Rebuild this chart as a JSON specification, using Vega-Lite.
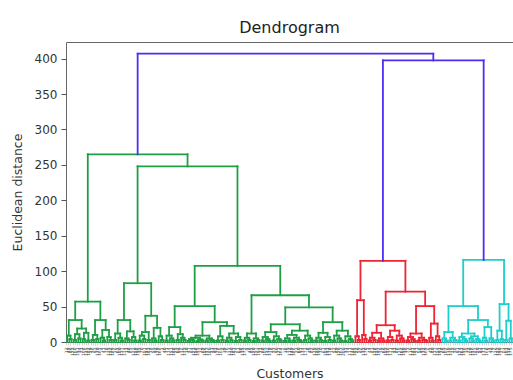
{
  "$schema": "https://vega.github.io/schema/vega-lite/v6.json",
  "width": 447,
  "height": 300,
  "autosize": {"type": "none"},
  "padding": {"left": 66, "top": 42, "right": 0, "bottom": 38},
  "background": "white",
  "title": {"text": "Dendrogram", "fontSize": 16, "fontWeight": "normal", "font": "DejaVu Sans", "color": "#222", "offset": 6},
  "config": {
    "view": {"stroke": "#666", "strokeWidth": 1},
    "axisX": {
      "tickCount": 200,
      "labelExpr": "datum.value >= 199.5 ? '' : '' + ((floor(datum.value) * 37 + 11) % 200 + 1)",
      "labelAngle": -90, "labelFontSize": 4.5, "labelColor": "#555", "labelFont": "DejaVu Sans",
      "labelOverlap": false, "labelPadding": 2, "labelBound": false, "labelFlush": false,
      "tickSize": 3, "tickColor": "#aaa", "tickWidth": 0.5,
      "domain": false, "grid": false,
      "titleFont": "DejaVu Sans", "titleFontSize": 12.5, "titleFontWeight": "normal", "titleColor": "#333", "titlePadding": 12
    },
    "axisY": {
      "labelFont": "DejaVu Sans", "labelFontSize": 12, "labelColor": "#333", "labelPadding": 4,
      "tickSize": 5, "tickColor": "#555",
      "domain": false, "grid": false,
      "titleFont": "DejaVu Sans", "titleFontSize": 12.5, "titleFontWeight": "normal", "titleColor": "#333", "titlePadding": 10
    }
  },
  "data": {"values": [
    {"a":1.5,"ya":0,"b":2.5,"yb":0,"h":4,"c":"g"},
    {"a":0.5,"ya":0,"b":2,"yb":4,"h":9,"c":"g"},
    {"a":3.5,"ya":0,"b":4.5,"yb":0,"h":3,"c":"g"},
    {"a":5.5,"ya":0,"b":6.5,"yb":0,"h":5,"c":"g"},
    {"a":4,"ya":3,"b":6,"yb":5,"h":11,"c":"g"},
    {"a":7.5,"ya":0,"b":8.5,"yb":0,"h":4,"c":"g"},
    {"a":9.5,"ya":0,"b":10.5,"yb":0,"h":2,"c":"g"},
    {"a":8,"ya":4,"b":10,"yb":2,"h":13,"c":"g"},
    {"a":5,"ya":11,"b":9,"yb":13,"h":19,"c":"g"},
    {"a":1.25,"ya":9,"b":7,"yb":19,"h":31,"c":"g"},
    {"a":11.5,"ya":0,"b":12.5,"yb":0,"h":3,"c":"g"},
    {"a":13.5,"ya":0,"b":14.5,"yb":0,"h":4,"c":"g"},
    {"a":12,"ya":3,"b":14,"yb":4,"h":10,"c":"g"},
    {"a":16.5,"ya":0,"b":17.5,"yb":0,"h":2,"c":"g"},
    {"a":15.5,"ya":0,"b":17,"yb":2,"h":6,"c":"g"},
    {"a":19.5,"ya":0,"b":20.5,"yb":0,"h":3,"c":"g"},
    {"a":18.5,"ya":0,"b":20,"yb":3,"h":7,"c":"g"},
    {"a":16.25,"ya":6,"b":19.25,"yb":7,"h":17,"c":"g"},
    {"a":13,"ya":10,"b":17.75,"yb":17,"h":31,"c":"g"},
    {"a":4.125,"ya":31,"b":15.375,"yb":31,"h":57,"c":"g"},
    {"a":21.5,"ya":0,"b":22.5,"yb":0,"h":3,"c":"g"},
    {"a":24.5,"ya":0,"b":25.5,"yb":0,"h":2,"c":"g"},
    {"a":23.5,"ya":0,"b":25,"yb":2,"h":6,"c":"g"},
    {"a":22,"ya":3,"b":24.25,"yb":6,"h":12,"c":"g"},
    {"a":27.5,"ya":0,"b":28.5,"yb":0,"h":3,"c":"g"},
    {"a":26.5,"ya":0,"b":28,"yb":3,"h":5,"c":"g"},
    {"a":30.5,"ya":0,"b":31.5,"yb":0,"h":2,"c":"g"},
    {"a":29.5,"ya":0,"b":31,"yb":2,"h":7,"c":"g"},
    {"a":27.25,"ya":5,"b":30.25,"yb":7,"h":15,"c":"g"},
    {"a":23.125,"ya":12,"b":28.75,"yb":15,"h":31,"c":"g"},
    {"a":32.5,"ya":0,"b":33.5,"yb":0,"h":2,"c":"g"},
    {"a":34.5,"ya":0,"b":35.5,"yb":0,"h":4,"c":"g"},
    {"a":33,"ya":2,"b":35,"yb":4,"h":9,"c":"g"},
    {"a":36.5,"ya":0,"b":37.5,"yb":0,"h":3,"c":"g"},
    {"a":34,"ya":9,"b":37,"yb":3,"h":14,"c":"g"},
    {"a":39.5,"ya":0,"b":40.5,"yb":0,"h":2,"c":"g"},
    {"a":38.5,"ya":0,"b":40,"yb":2,"h":5,"c":"g"},
    {"a":42.5,"ya":0,"b":43.5,"yb":0,"h":3,"c":"g"},
    {"a":41.5,"ya":0,"b":43,"yb":3,"h":8,"c":"g"},
    {"a":39.25,"ya":5,"b":42.25,"yb":8,"h":20,"c":"g"},
    {"a":35.5,"ya":14,"b":40.75,"yb":20,"h":37,"c":"g"},
    {"a":25.94,"ya":31,"b":38.125,"yb":37,"h":83,"c":"g"},
    {"a":44.5,"ya":0,"b":45.5,"yb":0,"h":2,"c":"g"},
    {"a":47.5,"ya":0,"b":48.5,"yb":0,"h":2,"c":"g"},
    {"a":46.5,"ya":0,"b":48,"yb":2,"h":5,"c":"g"},
    {"a":45,"ya":2,"b":47.25,"yb":5,"h":9,"c":"g"},
    {"a":49.5,"ya":0,"b":50.5,"yb":0,"h":3,"c":"g"},
    {"a":52.5,"ya":0,"b":53.5,"yb":0,"h":3,"c":"g"},
    {"a":51.5,"ya":0,"b":53,"yb":3,"h":6,"c":"g"},
    {"a":50,"ya":3,"b":52.25,"yb":6,"h":11,"c":"g"},
    {"a":46.125,"ya":9,"b":51.125,"yb":11,"h":21,"c":"g"},
    {"a":54.5,"ya":0,"b":55.5,"yb":0,"h":1.5,"c":"g"},
    {"a":56.5,"ya":0,"b":57.5,"yb":0,"h":2,"c":"g"},
    {"a":55,"ya":1.5,"b":57,"yb":2,"h":4,"c":"g"},
    {"a":58.5,"ya":0,"b":59.5,"yb":0,"h":1,"c":"g"},
    {"a":60.5,"ya":0,"b":61.5,"yb":0,"h":2,"c":"g"},
    {"a":59,"ya":1,"b":61,"yb":2,"h":3.5,"c":"g"},
    {"a":56,"ya":4,"b":60,"yb":3.5,"h":6,"c":"g"},
    {"a":62.5,"ya":0,"b":63.5,"yb":0,"h":2,"c":"g"},
    {"a":65.5,"ya":0,"b":66.5,"yb":0,"h":1.5,"c":"g"},
    {"a":64.5,"ya":0,"b":66,"yb":1.5,"h":3,"c":"g"},
    {"a":63,"ya":2,"b":65.25,"yb":3,"h":5,"c":"g"},
    {"a":58,"ya":6,"b":64.125,"yb":5,"h":9,"c":"g"},
    {"a":67.5,"ya":0,"b":68.5,"yb":0,"h":2,"c":"g"},
    {"a":69.5,"ya":0,"b":70.5,"yb":0,"h":3,"c":"g"},
    {"a":68,"ya":2,"b":70,"yb":3,"h":8,"c":"g"},
    {"a":71.5,"ya":0,"b":72.5,"yb":0,"h":2,"c":"g"},
    {"a":73.5,"ya":0,"b":74.5,"yb":0,"h":2.5,"c":"g"},
    {"a":72,"ya":2,"b":74,"yb":2.5,"h":6,"c":"g"},
    {"a":75.5,"ya":0,"b":76.5,"yb":0,"h":1.5,"c":"g"},
    {"a":77.5,"ya":0,"b":78.5,"yb":0,"h":3,"c":"g"},
    {"a":76,"ya":1.5,"b":78,"yb":3,"h":7,"c":"g"},
    {"a":73,"ya":6,"b":77,"yb":7,"h":12,"c":"g"},
    {"a":69,"ya":8,"b":75,"yb":12,"h":22.7,"c":"g"},
    {"a":61.06,"ya":9,"b":72,"yb":22.7,"h":28,"c":"g"},
    {"a":48.625,"ya":21,"b":66.53,"yb":28,"h":50.7,"c":"g"},
    {"a":79.5,"ya":0,"b":80.5,"yb":0,"h":2,"c":"g"},
    {"a":81.5,"ya":0,"b":82.5,"yb":0,"h":3,"c":"g"},
    {"a":80,"ya":2,"b":82,"yb":3,"h":6,"c":"g"},
    {"a":83.5,"ya":0,"b":84.5,"yb":0,"h":1.5,"c":"g"},
    {"a":85.5,"ya":0,"b":86.5,"yb":0,"h":2.5,"c":"g"},
    {"a":84,"ya":1.5,"b":86,"yb":2.5,"h":5,"c":"g"},
    {"a":81,"ya":6,"b":85,"yb":5,"h":12,"c":"g"},
    {"a":87.5,"ya":0,"b":88.5,"yb":0,"h":2,"c":"g"},
    {"a":90.5,"ya":0,"b":91.5,"yb":0,"h":1.5,"c":"g"},
    {"a":89.5,"ya":0,"b":91,"yb":1.5,"h":4,"c":"g"},
    {"a":88,"ya":2,"b":90.25,"yb":4,"h":7,"c":"g"},
    {"a":92.5,"ya":0,"b":93.5,"yb":0,"h":2,"c":"g"},
    {"a":95.5,"ya":0,"b":96.5,"yb":0,"h":2,"c":"g"},
    {"a":94.5,"ya":0,"b":96,"yb":2,"h":4,"c":"g"},
    {"a":93,"ya":2,"b":95.25,"yb":4,"h":8,"c":"g"},
    {"a":89.125,"ya":7,"b":94.125,"yb":8,"h":14,"c":"g"},
    {"a":97.5,"ya":0,"b":98.5,"yb":0,"h":1.5,"c":"g"},
    {"a":99.5,"ya":0,"b":100.5,"yb":0,"h":2,"c":"g"},
    {"a":98,"ya":1.5,"b":100,"yb":2,"h":5,"c":"g"},
    {"a":101.5,"ya":0,"b":102.5,"yb":0,"h":2,"c":"g"},
    {"a":104.5,"ya":0,"b":105.5,"yb":0,"h":1,"c":"g"},
    {"a":103.5,"ya":0,"b":105,"yb":1,"h":3,"c":"g"},
    {"a":102,"ya":2,"b":104.25,"yb":3,"h":6,"c":"g"},
    {"a":99,"ya":5,"b":103.125,"yb":6,"h":10,"c":"g"},
    {"a":106.5,"ya":0,"b":107.5,"yb":0,"h":3,"c":"g"},
    {"a":109.5,"ya":0,"b":110.5,"yb":0,"h":2,"c":"g"},
    {"a":108.5,"ya":0,"b":110,"yb":2,"h":5,"c":"g"},
    {"a":107,"ya":3,"b":109.25,"yb":5,"h":9,"c":"g"},
    {"a":101.06,"ya":10,"b":108.125,"yb":9,"h":16,"c":"g"},
    {"a":91.625,"ya":14,"b":104.59,"yb":16,"h":25,"c":"g"},
    {"a":111.5,"ya":0,"b":112.5,"yb":0,"h":2,"c":"g"},
    {"a":113.5,"ya":0,"b":114.5,"yb":0,"h":2.5,"c":"g"},
    {"a":112,"ya":2,"b":114,"yb":2.5,"h":6,"c":"g"},
    {"a":115.5,"ya":0,"b":116.5,"yb":0,"h":1.5,"c":"g"},
    {"a":117.5,"ya":0,"b":118.5,"yb":0,"h":3,"c":"g"},
    {"a":116,"ya":1.5,"b":118,"yb":3,"h":7,"c":"g"},
    {"a":113,"ya":6,"b":117,"yb":7,"h":13,"c":"g"},
    {"a":119.5,"ya":0,"b":120.5,"yb":0,"h":2,"c":"g"},
    {"a":122.5,"ya":0,"b":123.5,"yb":0,"h":2,"c":"g"},
    {"a":121.5,"ya":0,"b":123,"yb":2,"h":5,"c":"g"},
    {"a":120,"ya":2,"b":122.25,"yb":5,"h":9,"c":"g"},
    {"a":124.5,"ya":0,"b":125.5,"yb":0,"h":1.5,"c":"g"},
    {"a":127.5,"ya":0,"b":128.5,"yb":0,"h":2,"c":"g"},
    {"a":126.5,"ya":0,"b":128,"yb":2,"h":4,"c":"g"},
    {"a":125,"ya":1.5,"b":127.25,"yb":4,"h":8,"c":"g"},
    {"a":121.125,"ya":9,"b":126.125,"yb":8,"h":16,"c":"g"},
    {"a":115,"ya":13,"b":123.625,"yb":16,"h":28,"c":"g"},
    {"a":98.11,"ya":25,"b":119.31,"yb":28,"h":48.8,"c":"g"},
    {"a":83,"ya":12,"b":108.71,"yb":48.8,"h":66,"c":"g"},
    {"a":57.58,"ya":50.7,"b":95.86,"yb":66,"h":107.5,"c":"g"},
    {"a":32.03,"ya":83,"b":76.72,"yb":107.5,"h":248,"c":"g"},
    {"a":9.75,"ya":57,"b":54.375,"yb":248,"h":265,"c":"g"},
    {"a":130.5,"ya":0,"b":131.5,"yb":0,"h":3,"c":"r"},
    {"a":129.5,"ya":0,"b":131,"yb":3,"h":8,"c":"r"},
    {"a":133.5,"ya":0,"b":134.5,"yb":0,"h":4,"c":"r"},
    {"a":132.5,"ya":0,"b":134,"yb":4,"h":10,"c":"r"},
    {"a":130.25,"ya":8,"b":133.25,"yb":10,"h":59,"c":"r"},
    {"a":135.5,"ya":0,"b":136.5,"yb":0,"h":2,"c":"r"},
    {"a":137.5,"ya":0,"b":138.5,"yb":0,"h":3,"c":"r"},
    {"a":136,"ya":2,"b":138,"yb":3,"h":6,"c":"r"},
    {"a":139.5,"ya":0,"b":140.5,"yb":0,"h":2,"c":"r"},
    {"a":141.5,"ya":0,"b":142.5,"yb":0,"h":2,"c":"r"},
    {"a":140,"ya":2,"b":142,"yb":2,"h":5,"c":"r"},
    {"a":137,"ya":6,"b":141,"yb":5,"h":13,"c":"r"},
    {"a":143.5,"ya":0,"b":144.5,"yb":0,"h":2,"c":"r"},
    {"a":145.5,"ya":0,"b":146.5,"yb":0,"h":3,"c":"r"},
    {"a":144,"ya":2,"b":146,"yb":3,"h":7,"c":"r"},
    {"a":147.5,"ya":0,"b":148.5,"yb":0,"h":2,"c":"r"},
    {"a":150.5,"ya":0,"b":151.5,"yb":0,"h":2,"c":"r"},
    {"a":149.5,"ya":0,"b":151,"yb":2,"h":5,"c":"r"},
    {"a":148,"ya":2,"b":150.25,"yb":5,"h":9,"c":"r"},
    {"a":145,"ya":7,"b":149.125,"yb":9,"h":16,"c":"r"},
    {"a":139,"ya":13,"b":147.06,"yb":16,"h":23.7,"c":"r"},
    {"a":152.5,"ya":0,"b":153.5,"yb":0,"h":2,"c":"r"},
    {"a":155.5,"ya":0,"b":156.5,"yb":0,"h":1.5,"c":"r"},
    {"a":154.5,"ya":0,"b":156,"yb":1.5,"h":4,"c":"r"},
    {"a":153,"ya":2,"b":155.25,"yb":4,"h":7,"c":"r"},
    {"a":157.5,"ya":0,"b":158.5,"yb":0,"h":2,"c":"r"},
    {"a":160.5,"ya":0,"b":161.5,"yb":0,"h":2,"c":"r"},
    {"a":159.5,"ya":0,"b":161,"yb":2,"h":3,"c":"r"},
    {"a":158,"ya":2,"b":160.25,"yb":3,"h":6,"c":"r"},
    {"a":154.125,"ya":7,"b":159.125,"yb":6,"h":12,"c":"r"},
    {"a":163.5,"ya":0,"b":164.5,"yb":0,"h":2,"c":"r"},
    {"a":162.5,"ya":0,"b":164,"yb":2,"h":6,"c":"r"},
    {"a":166.5,"ya":0,"b":167.5,"yb":0,"h":3,"c":"r"},
    {"a":165.5,"ya":0,"b":167,"yb":3,"h":8,"c":"r"},
    {"a":163.25,"ya":6,"b":166.25,"yb":8,"h":26,"c":"r"},
    {"a":156.625,"ya":12,"b":164.75,"yb":26,"h":50.7,"c":"r"},
    {"a":143.03,"ya":23.7,"b":160.69,"yb":50.7,"h":71,"c":"r"},
    {"a":131.75,"ya":59,"b":151.86,"yb":71,"h":114.6,"c":"r"},
    {"a":169.5,"ya":0,"b":170.5,"yb":0,"h":2,"c":"c"},
    {"a":168.5,"ya":0,"b":170,"yb":2,"h":5,"c":"c"},
    {"a":171.5,"ya":0,"b":172.5,"yb":0,"h":2,"c":"c"},
    {"a":173.5,"ya":0,"b":174.5,"yb":0,"h":3,"c":"c"},
    {"a":172,"ya":2,"b":174,"yb":3,"h":6,"c":"c"},
    {"a":169.25,"ya":5,"b":173,"yb":6,"h":14,"c":"c"},
    {"a":175.5,"ya":0,"b":176.5,"yb":0,"h":2,"c":"c"},
    {"a":178.5,"ya":0,"b":179.5,"yb":0,"h":2,"c":"c"},
    {"a":177.5,"ya":0,"b":179,"yb":2,"h":4,"c":"c"},
    {"a":176,"ya":2,"b":178.25,"yb":4,"h":7,"c":"c"},
    {"a":181.5,"ya":0,"b":182.5,"yb":0,"h":2,"c":"c"},
    {"a":180.5,"ya":0,"b":182,"yb":2,"h":5,"c":"c"},
    {"a":184.5,"ya":0,"b":185.5,"yb":0,"h":1.5,"c":"c"},
    {"a":183.5,"ya":0,"b":185,"yb":1.5,"h":4,"c":"c"},
    {"a":181.25,"ya":5,"b":184.25,"yb":4,"h":8,"c":"c"},
    {"a":177.125,"ya":7,"b":182.75,"yb":8,"h":12,"c":"c"},
    {"a":187.5,"ya":0,"b":188.5,"yb":0,"h":2,"c":"c"},
    {"a":186.5,"ya":0,"b":188,"yb":2,"h":6,"c":"c"},
    {"a":190.5,"ya":0,"b":191.5,"yb":0,"h":2,"c":"c"},
    {"a":189.5,"ya":0,"b":191,"yb":2,"h":5,"c":"c"},
    {"a":187.25,"ya":6,"b":190.25,"yb":5,"h":21,"c":"c"},
    {"a":179.94,"ya":12,"b":188.75,"yb":21,"h":31,"c":"c"},
    {"a":171.125,"ya":14,"b":184.34,"yb":31,"h":50.7,"c":"c"},
    {"a":192.5,"ya":0,"b":193.5,"yb":0,"h":3,"c":"c"},
    {"a":194.5,"ya":0,"b":195.5,"yb":0,"h":4,"c":"c"},
    {"a":193,"ya":3,"b":195,"yb":4,"h":16,"c":"c"},
    {"a":196.5,"ya":0,"b":197.5,"yb":0,"h":3,"c":"c"},
    {"a":198.5,"ya":0,"b":199.5,"yb":0,"h":5,"c":"c"},
    {"a":197,"ya":3,"b":199,"yb":5,"h":30,"c":"c"},
    {"a":194,"ya":16,"b":198,"yb":30,"h":53.5,"c":"c"},
    {"a":177.73,"ya":50.7,"b":196,"yb":53.5,"h":116,"c":"c"},
    {"a":141.8,"ya":114.6,"b":186.87,"yb":116,"h":397.5,"c":"b"},
    {"a":32.06,"ya":265,"b":164.34,"yb":397.5,"h":407,"c":"b"}
  ]},
  "encoding": {
    "x": {
      "field": "a", "type": "quantitative", "title": "Customers",
      "scale": {"domain": [0, 200], "nice": false, "zero": false}
    },
    "y": {
      "field": "h", "type": "quantitative", "title": "Euclidean distance",
      "scale": {"domain": [0, 423.5], "nice": false, "zero": true},
      "axis": {"values": [0, 50, 100, 150, 200, 250, 300, 350, 400]}
    },
    "color": {
      "field": "c", "type": "nominal", "legend": null,
      "scale": {"domain": ["g", "r", "c", "b"], "range": ["#1f9f45", "#ee2433", "#1fcdcd", "#4b2ff0"]}
    }
  },
  "layer": [
    {
      "mark": {"type": "rule", "strokeWidth": 1.8, "strokeCap": "square"},
      "encoding": {"x2": {"field": "b"}}
    },
    {
      "mark": {"type": "rule", "strokeWidth": 1.8, "strokeCap": "square"},
      "encoding": {"y2": {"field": "ya"}}
    },
    {
      "mark": {"type": "rule", "strokeWidth": 1.8, "strokeCap": "square"},
      "encoding": {
        "x": {"field": "b", "type": "quantitative", "title": "Customers", "scale": {"domain": [0, 200], "nice": false, "zero": false}},
        "y2": {"field": "yb"}
      }
    }
  ]
}
